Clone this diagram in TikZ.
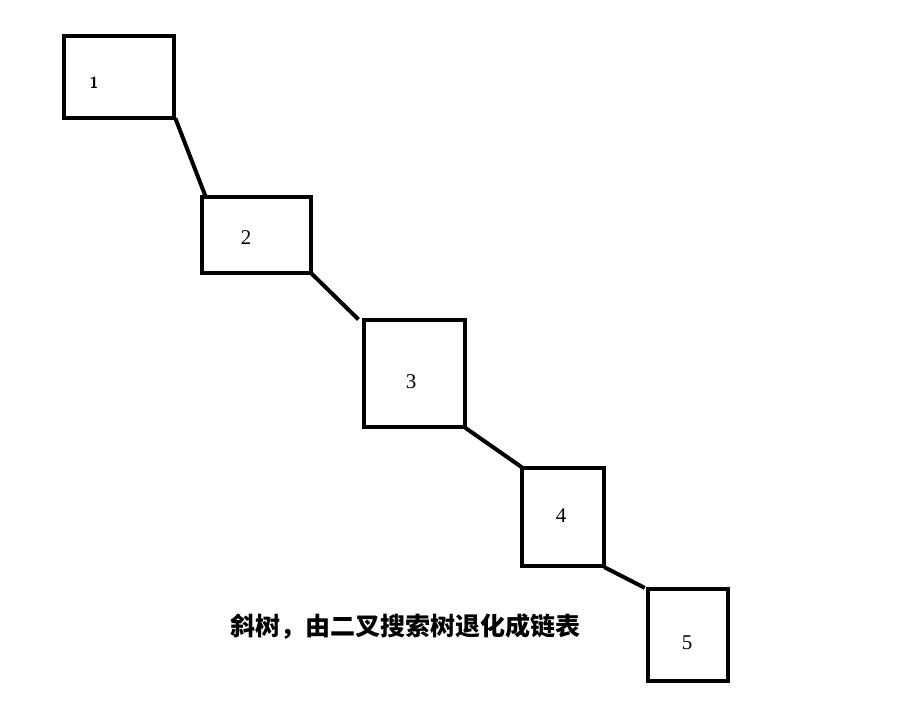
\documentclass[tikz,border=0pt]{standalone}
\usepackage{fontspec}
\newfontfamily\cjk{Noto Sans CJK SC}
\newfontfamily\keyfont{Liberation Serif}
\usetikzlibrary{positioning}

\begin{document}
\begin{tikzpicture}[x=1pt, y=-1pt, line join=miter, line cap=rect]
    \tikzset{
        treebox/.style={draw, line width=4pt, inner sep=0pt, minimum width=#1},
        treeedge/.style={line width=4pt},
        keylabel/.style={font=\keyfont\fontsize{21}{21}\selectfont}
    }
    \useasboundingbox (0,0) rectangle (919,703);

    % Boxes of the degenerate tree
    \node[treebox=110pt, minimum height=82pt]  (n1) at (119, 77)    {};
    \node[treebox=109pt, minimum height=76pt]  (n2) at (256.5, 235) {};
    \node[treebox=101pt, minimum height=107pt] (n3) at (414.5, 373.5) {};
    \node[treebox=82pt,  minimum height=98pt]  (n4) at (563, 517)   {};
    \node[treebox=80pt,  minimum height=92pt]  (n5) at (688, 635)   {};

    % Keys
    \node[keylabel] (k1) at (94, 83)   {\sffamily\bfseries\fontsize{16}{16}\selectfont 1};
    \node[keylabel] (k2) at (246, 238) {2};
    \node[keylabel] (k3) at (411, 382) {3};
    \node[keylabel] (k4) at (561, 516) {4};
    \node[keylabel] (k5) at (687, 643) {5};

    % Right-child links
    \draw[treeedge] (n1.south east) -- ([xshift=5pt]n2.north west);
    \draw[treeedge] (n2.south east) -- ([xshift=-5pt]n3.north west);
    \draw[treeedge] (n3.south east) -- (n4.north west);
    \draw[treeedge] (n4.south east) -- ([xshift=-3pt]n5.north west);

    % Caption
    \node[font=\cjk\bfseries\fontsize{25}{25}\selectfont] (caption) at (405, 627)
        {斜树，由二叉搜索树退化成链表};
\end{tikzpicture}
\end{document}
